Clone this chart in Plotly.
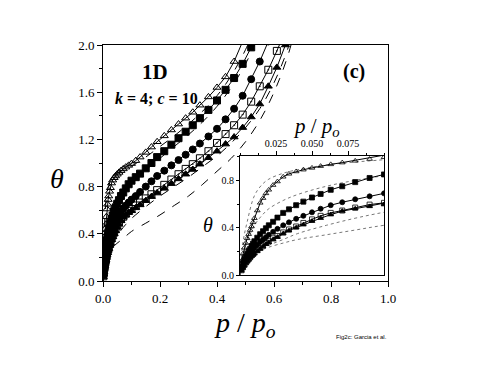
import plotly.graph_objects as go

# ---------------- data ----------------
p_grid = [0.001, 0.002, 0.003, 0.004, 0.005, 0.006, 0.007, 0.008, 0.009, 0.010,
          0.012, 0.014, 0.016, 0.018, 0.020, 0.023, 0.026, 0.030, 0.034, 0.039,
          0.044, 0.050, 0.056, 0.063, 0.071, 0.080, 0.090, 0.100, 0.115, 0.13,
          0.15, 0.17, 0.19, 0.215, 0.24, 0.265, 0.29, 0.315, 0.34, 0.37,
          0.40, 0.43, 0.46, 0.49, 0.52, 0.55, 0.58, 0.61, 0.64]

theta_open_tri = [0.12, 0.18, 0.23, 0.27, 0.31, 0.345, 0.38, 0.41, 0.445, 0.48,
                  0.545, 0.61, 0.65, 0.69, 0.72, 0.76, 0.79, 0.83, 0.855, 0.875,
                  0.89, 0.905, 0.92, 0.935, 0.95, 0.965, 0.98, 0.995, 1.02, 1.05,
                  1.09, 1.135, 1.18, 1.23, 1.28, 1.33, 1.38, 1.43, 1.49, 1.56,
                  1.64, 1.73, 1.86, 2.03, 2.25]

theta_fill_sq = [0.06, 0.10, 0.13, 0.155, 0.18, 0.20, 0.22, 0.245, 0.265, 0.285,
                 0.315, 0.345, 0.37, 0.395, 0.42, 0.45, 0.485, 0.525, 0.555, 0.59,
                 0.62, 0.655, 0.685, 0.72, 0.75, 0.785, 0.82, 0.85, 0.88, 0.91,
                 0.955, 1.0, 1.05, 1.10, 1.155, 1.21, 1.265, 1.32, 1.38, 1.45,
                 1.53, 1.62, 1.72, 1.84, 1.98, 2.15]

theta_fill_circ = [0.05, 0.08, 0.11, 0.135, 0.155, 0.175, 0.19, 0.205, 0.22, 0.23,
                   0.255, 0.28, 0.30, 0.32, 0.34, 0.365, 0.39, 0.42, 0.445, 0.475,
                   0.50, 0.53, 0.56, 0.59, 0.615, 0.64, 0.665, 0.69, 0.72, 0.755,
                   0.80, 0.845, 0.89, 0.935, 0.98, 1.025, 1.07, 1.115, 1.165, 1.225,
                   1.29, 1.37, 1.46, 1.57, 1.71, 1.86, 2.03]

theta_dot_sq = [0.04, 0.065, 0.085, 0.105, 0.12, 0.135, 0.15, 0.165, 0.178, 0.19,
                0.21, 0.23, 0.25, 0.27, 0.285, 0.31, 0.33, 0.36, 0.385, 0.41,
                0.44, 0.47, 0.50, 0.525, 0.545, 0.57, 0.595, 0.61, 0.64, 0.665,
                0.70, 0.735, 0.77, 0.815, 0.86, 0.905, 0.95, 0.99, 1.04, 1.10,
                1.17, 1.245, 1.32, 1.41, 1.52, 1.65, 1.79, 1.95, 2.12]

theta_fill_tri = [0.035, 0.06, 0.08, 0.10, 0.115, 0.13, 0.145, 0.158, 0.17, 0.18,
                  0.20, 0.22, 0.24, 0.26, 0.275, 0.30, 0.32, 0.35, 0.375, 0.40,
                  0.425, 0.455, 0.48, 0.51, 0.54, 0.56, 0.58, 0.595, 0.62, 0.645,
                  0.68, 0.715, 0.745, 0.785, 0.825, 0.865, 0.905, 0.945, 0.99, 1.045,
                  1.10, 1.16, 1.22, 1.30, 1.39, 1.50, 1.65, 1.81, 2.0]

line_p = [0.0, 0.002, 0.005, 0.01, 0.015, 0.02, 0.03, 0.04, 0.06, 0.08, 0.1,
          0.15, 0.2, 0.25, 0.3, 0.35, 0.4, 0.45, 0.5, 0.55, 0.6, 0.65, 0.7]

curve_1 = [0.0, 0.27, 0.45, 0.67, 0.76, 0.81, 0.86, 0.89, 0.93, 0.955, 0.975,
           1.05, 1.14, 1.23, 1.33, 1.44, 1.57, 1.74, 1.96, 2.25]
curve_2 = [0.0, 0.15, 0.28, 0.42, 0.50, 0.56, 0.63, 0.68, 0.75, 0.80, 0.84,
           0.94, 1.04, 1.14, 1.24, 1.35, 1.48, 1.64, 1.84, 2.1]
curve_4 = [0.0, 0.06, 0.11, 0.17, 0.21, 0.25, 0.30, 0.35, 0.42, 0.48, 0.53,
           0.63, 0.72, 0.80, 0.88, 0.97, 1.06, 1.17, 1.30, 1.46, 1.68, 1.98, 2.4]
curve_5 = [0.0, 0.07, 0.12, 0.17, 0.21, 0.235, 0.27, 0.30, 0.34, 0.38, 0.42,
           0.49, 0.56, 0.64, 0.72, 0.82, 0.93, 1.04, 1.18, 1.36, 1.60, 1.92, 2.4]

main_xticks = [0.0, 0.2, 0.4, 0.6, 0.8, 1.0]
main_yticks = [0.0, 0.4, 0.8, 1.2, 1.6, 2.0]
inset_xticks = [0.025, 0.050, 0.075]
inset_yticks = [0.0, 0.4, 0.8]

# ---------------- figure ----------------
W, H = 491, 379
OFF = 8  # page body margin
SERIF = "Liberation Serif, Times New Roman, serif"


def fx(px):
    return (px - OFF) / W


def fy(py):
    return 1 - (py - OFF) / H


fig = go.Figure()

series = [
    (theta_open_tri, "triangle-up-open"),
    (theta_fill_sq, "square"),
    (theta_fill_circ, "circle"),
    (theta_dot_sq, "square-open-dot"),
    (theta_fill_tri, "triangle-up"),
]
curves = [curve_1, curve_2, curve_4, curve_5]

# main panel
for c in curves:
    fig.add_trace(go.Scatter(x=line_p[:len(c)], y=c, mode="lines",
                             line=dict(color="black", width=1, dash="dash", shape="spline"),
                             xaxis="x", yaxis="y", showlegend=False, hoverinfo="skip"))
for vals, sym in series:
    fig.add_trace(go.Scatter(x=p_grid[:len(vals)], y=vals, mode="lines+markers",
                             line=dict(color="black", width=1),
                             marker=dict(symbol=sym, size=7, color="black",
                                         line=dict(color="black", width=1)),
                             xaxis="x", yaxis="y", showlegend=False))

# inset panel
for c in curves:
    fig.add_trace(go.Scatter(x=line_p[:len(c)], y=c, mode="lines",
                             line=dict(color="#555555", width=0.8, dash="dot", shape="spline"),
                             xaxis="x2", yaxis="y2", showlegend=False, hoverinfo="skip"))
for vals, sym in series:
    fig.add_trace(go.Scatter(x=p_grid[:len(vals)], y=vals, mode="lines+markers",
                             line=dict(color="black", width=1),
                             marker=dict(symbol=sym, size=5, color="black",
                                         line=dict(color="black", width=0.8)),
                             xaxis="x2", yaxis="y2", showlegend=False))

axis_common = dict(showline=True, linecolor="black", linewidth=1, mirror=True,
                   showgrid=False, zeroline=False, ticks="outside", tickcolor="black",
                   tickwidth=1, automargin=False)

fig.update_layout(
    template="none",
    width=W, height=H,
    margin=dict(l=0, r=0, t=0, b=0, pad=0, autoexpand=False),
    paper_bgcolor="white", plot_bgcolor="white",
    showlegend=False,
    xaxis=dict(domain=[fx(103), fx(388)], range=[0, 1], tickvals=main_xticks,
               tickformat=".1f", ticklen=5,
               minor=dict(dtick=0.1, ticks="outside", ticklen=3, tickcolor="black"),
               tickfont=dict(family=SERIF, size=13, color="black"), anchor="y",
               **axis_common),
    yaxis=dict(domain=[fy(281), fy(45)], range=[0, 2], tickvals=main_yticks,
               tickformat=".1f", ticklen=5,
               minor=dict(dtick=0.2, ticks="outside", ticklen=3, tickcolor="black"),
               tickfont=dict(family=SERIF, size=13, color="black"), anchor="x",
               **axis_common),
    xaxis2=dict(domain=[fx(240), fx(384)], range=[0, 0.1], tickvals=inset_xticks,
                tickformat=".3f", ticklen=4, side="top",
                minor=dict(dtick=0.0125, ticks="outside", ticklen=2, tickcolor="black"),
                tickfont=dict(family=SERIF, size=10, color="black"), anchor="y2",
                **axis_common),
    yaxis2=dict(domain=[fy(275), fy(155.5)], range=[0, 1.01], tickvals=inset_yticks,
                tickformat=".1f", ticklen=3,
                minor=dict(dtick=0.2, ticks="outside", ticklen=2, tickcolor="black"),
                tickfont=dict(family=SERIF, size=10, color="black"), anchor="x2",
                **axis_common),
)

ann = [
    dict(x=fx(57), y=fy(178), text="<i>θ</i>", font=dict(family=SERIF, size=28)),
    dict(x=fx(245), y=fy(324), text="<i>p</i> / <i>p</i><sub><i>o</i></sub>",
         font=dict(family=SERIF, size=28)),
    dict(x=fx(208), y=fy(225), text="<i>θ</i>", font=dict(family=SERIF, size=20)),
    dict(x=fx(316), y=fy(127), text="<i>p</i> / <i>p</i><sub><i>o</i></sub>",
         font=dict(family=SERIF, size=21)),
    dict(x=fx(155), y=fy(72), text="<b>1D</b>", font=dict(family=SERIF, size=21)),
    dict(x=fx(156), y=fy(99), text="<b><i>k</i> = 4; <i>c</i> = 10</b>",
         font=dict(family=SERIF, size=16)),
    dict(x=fx(354), y=fy(71), text="<b>(c)</b>", font=dict(family=SERIF, size=20)),
    dict(x=fx(361), y=fy(337), text="Fig2c: Garcia et al.",
         font=dict(family="Liberation Sans, Arial, sans-serif", size=6)),
]
for a in ann:
    a.update(xref="paper", yref="paper", showarrow=False, xanchor="center",
             yanchor="middle")
    a["font"]["color"] = "black"
fig.update_layout(annotations=ann)

fig.write_html("out.html")
